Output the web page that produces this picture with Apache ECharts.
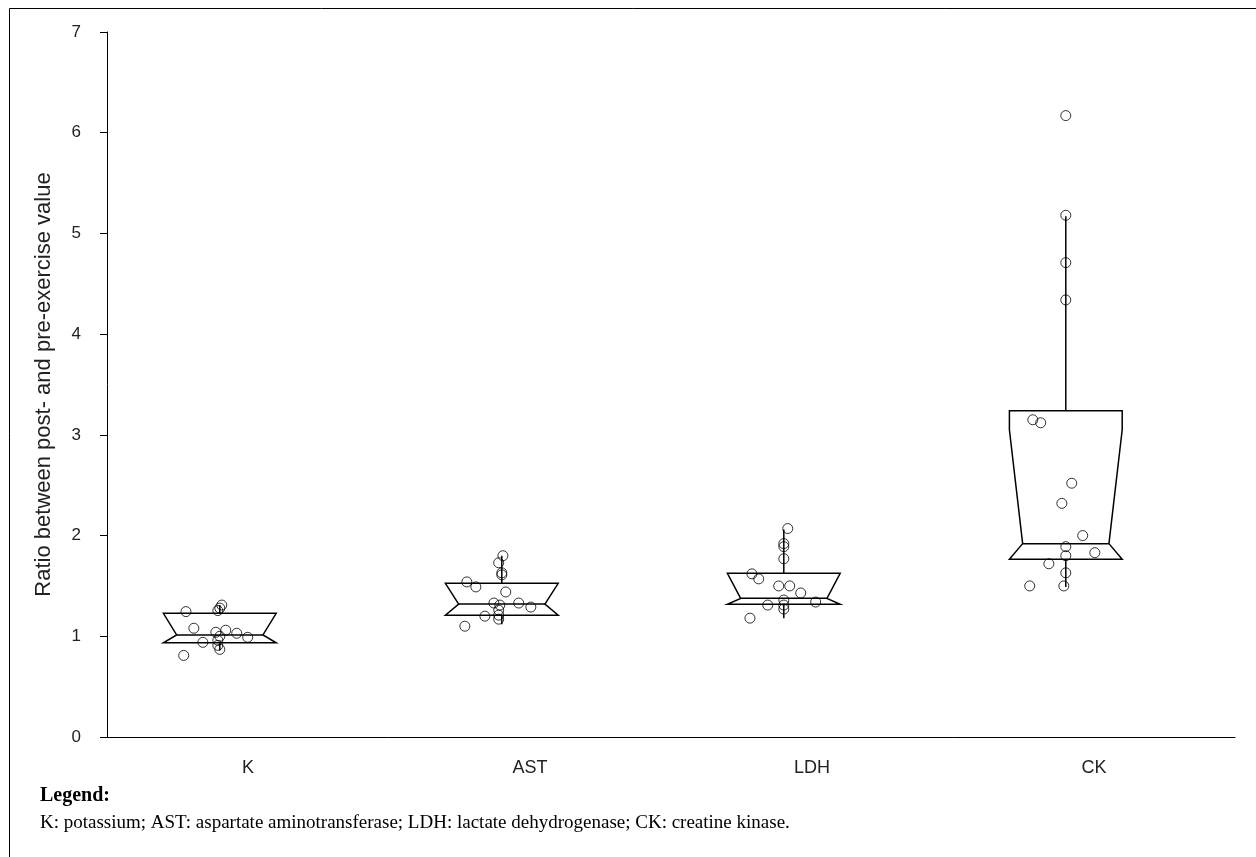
<!DOCTYPE html>
<html>
<head>
<meta charset="utf-8">
<script src="https://cdn.jsdelivr.net/npm/echarts@6/dist/echarts.min.js"></script>
<style>
  html, body { margin: 0; padding: 0; background: #fff; }
  #chart { width: 1256px; height: 857px; }
</style>
</head>
<body>
<div id="chart"></div>
<script>
// categories and tick labels
const categories = ['K', 'AST', 'LDH', 'CK'];
const yTicks = [0, 1, 2, 3, 4, 5, 6, 7];

// box statistics per category: q1, median, q3, upper notch end, lower whisker, upper whisker
const q1Values     = [0.936, 1.21, 1.318, 1.765];
const medianValues = [1.013, 1.32, 1.377, 1.92];
const q3Values     = [1.228, 1.526, 1.625, 3.24];
const notchHiValues = [1.228, 1.526, 1.625, 3.05];
const whiskerLow   = [0.86, 1.12, 1.18, 1.49];
const whiskerHigh  = [1.31, 1.80, 2.06, 5.17];

// individual ratios (and their horizontal jitter, in category units)
const kValues   = [1.245, 1.31, 1.28, 1.255, 1.08, 1.06, 1.03, 0.99, 1.04, 1.00, 0.94, 0.96, 0.91, 0.87, 0.81];
const kJitter   = [-0.12, 0.007, 0, -0.007, -0.092, 0.021, 0.06, 0.099, -0.014, 0, -0.06, -0.007, -0.007, 0, -0.128];
const astValues = [1.80, 1.73, 1.63, 1.61, 1.54, 1.49, 1.44, 1.33, 1.33, 1.29, 1.31, 1.26, 1.20, 1.21, 1.17, 1.10];
const astJitter = [0.004, -0.011, 0, 0, -0.124, -0.092, 0.014, -0.028, 0.06, 0.103, -0.007, -0.011, -0.06, -0.011, -0.011, -0.131];
const ldhValues = [2.07, 1.92, 1.89, 1.77, 1.62, 1.57, 1.50, 1.50, 1.43, 1.31, 1.34, 1.36, 1.31, 1.27, 1.18];
const ldhJitter = [0.014, 0, 0, 0, -0.113, -0.089, -0.018, 0.021, 0.06, -0.057, 0.113, 0, 0, 0, -0.12];
const ckValues  = [6.17, 5.18, 4.71, 4.34, 3.15, 3.12, 2.52, 2.32, 2.00, 1.89, 1.83, 1.80, 1.72, 1.63, 1.50, 1.50];
const ckJitter  = [0, 0, 0, 0, -0.117, -0.089, 0.021, -0.014, 0.06, 0, 0.103, 0, -0.06, 0, -0.128, -0.007];

const groupValues = [kValues, astValues, ldhValues, ckValues];
const groupJitter = [kJitter, astJitter, ldhJitter, ckJitter];

// boxes sit a bit left of the band centre, like the original plot
const BOX_OFFSET = 0.4;
const HALF = 0.2;
const INNER = 0.153;

const boxData = categories.map((c, i) =>
  [i, q1Values[i], medianValues[i], q3Values[i], notchHiValues[i], whiskerLow[i], whiskerHigh[i]]);

const pointData = [];
groupValues.forEach((vals, i) => {
  vals.forEach((v, j) => pointData.push([i + BOX_OFFSET + groupJitter[i][j], v]));
});

function renderBox(params, api) {
  const c = api.value(0) + BOX_OFFSET;
  const q1 = api.value(1), med = api.value(2), q3 = api.value(3);
  const nHi = api.value(4), lo = api.value(5), hi = api.value(6);
  const p = (x, y) => api.coord([x, y]);
  const L = c - HALF, R = c + HALF, Li = c - INNER, Ri = c + INNER;
  const st = { stroke: '#000', lineWidth: 1.5, fill: null };
  const ml = p(Li, med), mr = p(Ri, med);
  const top = p(c, q3), topW = p(c, hi), bot = p(c, q1), botW = p(c, lo);
  return {
    type: 'group',
    children: [
      { type: 'polygon', shape: { points: [p(L, q3), p(R, q3), p(R, nHi), mr, p(R, q1), p(L, q1), ml, p(L, nHi)] }, style: st },
      { type: 'line', shape: { x1: ml[0], y1: ml[1], x2: mr[0], y2: mr[1] }, style: st },
      { type: 'line', shape: { x1: top[0], y1: top[1], x2: topW[0], y2: topW[1] }, style: st },
      { type: 'line', shape: { x1: bot[0], y1: bot[1], x2: botW[0], y2: botW[1] }, style: st }
    ]
  };
}

const chart = echarts.init(document.getElementById('chart'));
const axisFont = '"Liberation Sans", Arial, sans-serif';

chart.setOption({
  animation: false,
  backgroundColor: '#fff',
  grid: { left: 107, right: 21, top: 32, bottom: 120 },
  xAxis: [
    {
      type: 'category',
      data: categories,
      boundaryGap: true,
      axisLine: { lineStyle: { color: '#000', width: 1 } },
      axisTick: { length: 8, interval: 0, lineStyle: { color: '#000' } },
      axisLabel: { margin: 22, fontSize: 18, color: '#222', fontFamily: axisFont },
      splitLine: { show: false }
    },
    { type: 'value', min: 0, max: 4, show: false }
  ],
  yAxis: {
    type: 'value',
    min: yTicks[0],
    max: yTicks[yTicks.length - 1],
    interval: 1,
    name: 'Ratio between post- and pre-exercise value',
    nameLocation: 'middle',
    nameGap: 52,
    nameTextStyle: { fontSize: 22, color: '#222', fontFamily: axisFont },
    axisLine: { show: true, lineStyle: { color: '#000', width: 1 } },
    axisTick: { show: true, length: 7, lineStyle: { color: '#000' } },
    axisLabel: { margin: 26, fontSize: 17, color: '#222', fontFamily: axisFont },
    splitLine: { show: false }
  },
  series: [
    {
      type: 'custom',
      xAxisIndex: 1,
      renderItem: renderBox,
      data: boxData,
      encode: { x: 0, y: [1, 2, 3, 4, 5, 6] },
      silent: true,
      z: 2
    },
    {
      type: 'scatter',
      xAxisIndex: 1,
      data: pointData,
      symbol: 'circle',
      symbolSize: 10,
      itemStyle: { color: 'rgba(0,0,0,0)', borderColor: '#000', borderWidth: 1 },
      z: 3
    }
  ],
  graphic: [
    {
      type: 'rect',
      shape: { x: 9.5, y: 8.5, width: 1300, height: 900 },
      style: { fill: null, stroke: '#000', lineWidth: 1 },
      silent: true
    },
    {
      type: 'text',
      x: 40, y: 796,
      style: { text: 'Legend:', font: 'bold 20px "Liberation Serif", "Times New Roman", serif', fill: '#000', verticalAlign: 'middle' }
    },
    {
      type: 'text',
      x: 40, y: 823,
      style: { text: 'K: potassium; AST: aspartate aminotransferase; LDH: lactate dehydrogenase; CK: creatine kinase.', font: '19px "Liberation Serif", "Times New Roman", serif', fill: '#000', verticalAlign: 'middle' }
    }
  ]
});
</script>
</body>
</html>
